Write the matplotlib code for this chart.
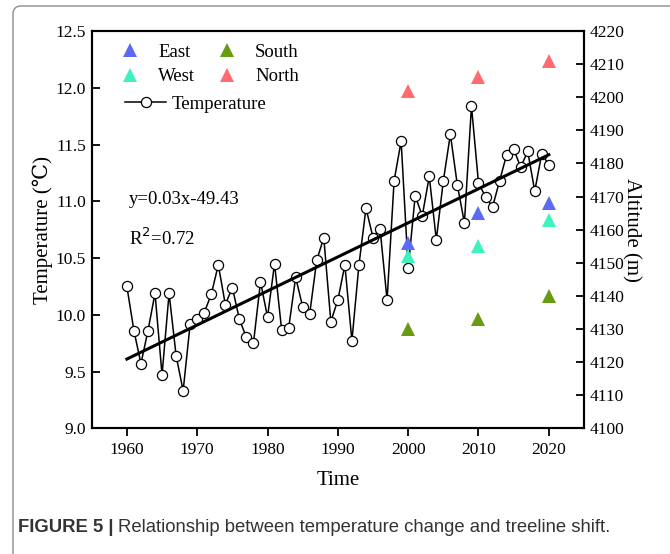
import matplotlib
matplotlib.use("Agg")
import matplotlib.pyplot as plt
from matplotlib.lines import Line2D
from matplotlib.path import Path
from matplotlib.patches import PathPatch

# ---------------- data ----------------
years = list(range(1960, 2021))
temperature = [10.25, 9.86, 9.57, 9.86, 10.19, 9.47, 10.19, 9.64, 9.33, 9.92,
               9.96, 10.02, 10.18, 10.44, 10.09, 10.24, 9.96, 9.80, 9.75, 10.29,
               9.98, 10.45, 9.87, 9.88, 10.33, 10.07, 10.01, 10.48, 10.68, 9.94,
               10.13, 10.44, 9.77, 10.44, 10.94, 10.68, 10.76, 10.13, 11.18, 11.53,
               10.41, 11.05, 10.87, 11.22, 10.66, 11.18, 11.59, 11.14, 10.81, 11.84,
               11.16, 11.04, 10.95, 11.18, 11.41, 11.46, 11.30, 11.44, 11.09, 11.42,
               11.32]
trend_years = [1960, 2020]
trend_vals = [9.61, 11.41]

survey_years = [2000, 2010, 2020]
alt_east = [4156, 4165, 4168]
alt_west = [4152, 4155, 4163]
alt_south = [4130, 4133, 4140]
alt_north = [4202, 4206, 4211]

x_ticks = [1960, 1970, 1980, 1990, 2000, 2010, 2020]
y_ticks = [9.0, 9.5, 10.0, 10.5, 11.0, 11.5, 12.0, 12.5]
alt_ticks = list(range(4100, 4221, 10))

colors = {"East": "#5B6CF2", "West": "#3DF2BE", "South": "#679B12", "North": "#FF6B6E"}

# ---------------- figure ----------------
serif = ["Liberation Serif", "DejaVu Serif"]
sans = ["Liberation Sans", "DejaVu Sans"]
plt.rcParams["font.family"] = serif

W, H = 670, 554
fig = plt.figure(figsize=(6.7, 5.54), dpi=100)
ax = fig.add_axes([0.1369, 0.2269, 0.7347, 0.7171])
ax2 = ax.twinx()

# temperature series
ax.plot(years, temperature, color="black", lw=1.1, marker="o", ms=7.3,
        mfc="white", mec="black", mew=0.9, zorder=3)
ax.plot(trend_years, trend_vals, color="black", lw=2.2, zorder=4)

ax.set_xlim(1955, 2025)
ax.set_ylim(9.0, 12.5)
ax.set_xticks(x_ticks)
ax.set_yticks(y_ticks)
ax.set_yticklabels([f"{v:.1f}" for v in y_ticks])

# altitude triangles
tri_kw = dict(marker="^", ms=9.5, ls="none", mew=0)
ax2.plot(survey_years, alt_east, color=colors["East"], **tri_kw)
ax2.plot(survey_years, alt_west, color=colors["West"], **tri_kw)
ax2.plot(survey_years, alt_south, color=colors["South"], **tri_kw)
ax2.plot(survey_years, alt_north, color=colors["North"], **tri_kw)
ax2.set_ylim(4100, 4220)
ax2.set_yticks(alt_ticks)

for a in (ax, ax2):
    for s in a.spines.values():
        s.set_linewidth(1.5)
        s.set_color("black")

ax.tick_params(axis="x", direction="out", length=6, width=1.3, labelsize=12.5, pad=4)
ax.tick_params(axis="y", direction="in", length=6, width=1.3, labelsize=12.5, pad=4)
ax2.tick_params(axis="y", direction="in", length=6, width=1.3, labelsize=12.5, pad=4)

ax.set_xlabel("Time", fontsize=15, labelpad=9)
ax.set_ylabel("Temperature (℃)", fontsize=15, labelpad=2)
ax2.set_ylabel("Altitude (m)", fontsize=15, rotation=270, labelpad=12)

# equation text
ax.text(1960.3, 11.02, "y=0.03x-49.43", fontsize=13.5, ha="left", va="center")
ax.text(1960.3, 10.67, "R$^2$=0.72", fontsize=13.5, ha="left", va="center")

# legends
tri_handles = [Line2D([], [], color=colors[k], **tri_kw) for k in ("East", "West", "South", "North")]
leg1 = ax.legend(tri_handles, ["East", "West", "South", "North"], ncol=2, loc="upper left",
                 bbox_to_anchor=(0.032, 0.997), frameon=False, fontsize=13.5,
                 handlelength=1.2, handletextpad=0.9, columnspacing=1.1, labelspacing=0.4,
                 borderaxespad=0.2)
ax.add_artist(leg1)
temp_handle = Line2D([], [], color="black", lw=1.1, marker="o", ms=7.3, mfc="white",
                     mec="black", mew=0.9)
ax.legend([temp_handle], ["Temperature"], loc="upper left", bbox_to_anchor=(0.045, 0.866),
          frameon=False, fontsize=13.5, handlelength=2.2, handletextpad=0.3,
          borderaxespad=0.2)

# keep triangles on top
ax2.set_zorder(ax.get_zorder() + 1)
ax.patch.set_visible(True)
ax2.patch.set_visible(False)

# outer frame: left and top lines with rounded top-left corner
xl, yt, r = 13.0, 6.0, 8.0
verts = [(xl, H + 20), (xl, yt + r), (xl, yt), (xl + r, yt), (W + 20, yt)]
verts = [(x / W, 1 - y / H) for x, y in verts]
codes = [Path.MOVETO, Path.LINETO, Path.CURVE3, Path.CURVE3, Path.LINETO]
frame = PathPatch(Path(verts, codes), transform=fig.transFigure, fill=False,
                  ec="#8c8c8c", lw=1.0)
fig.patches.append(frame)

# caption
cy = 1 - 528 / H
t1 = fig.text(18 / W, cy, "FIGURE 5 |", fontsize=13.3, fontweight="bold",
              family=sans, color="#333333", va="center", ha="left")
fig.canvas.draw()
bb = t1.get_window_extent(renderer=fig.canvas.get_renderer())
fig.text((bb.x1 + 4) / W, cy, "Relationship between temperature change and treeline shift.",
         fontsize=13.3, family=sans, color="#333333", va="center", ha="left")

fig.savefig("out.png", dpi=100)
